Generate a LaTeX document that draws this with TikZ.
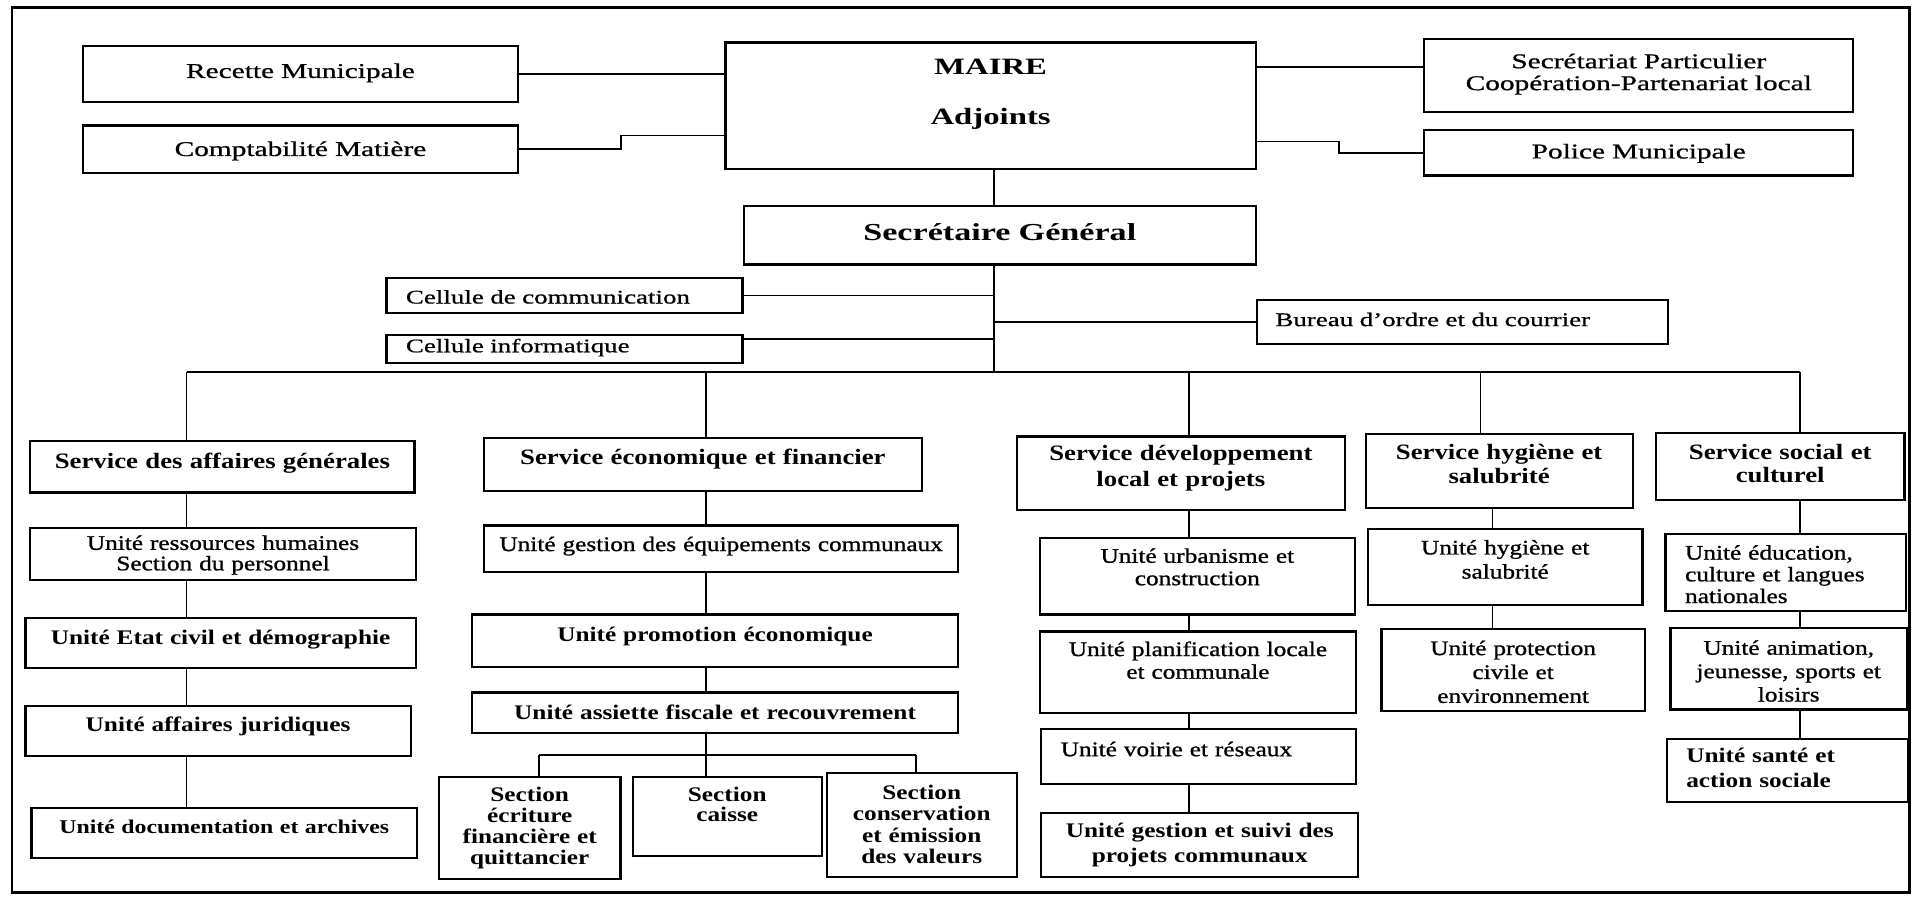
\documentclass[tikz,border=0pt]{standalone}
\usepackage{fontspec}
\setmainfont{Liberation Serif}[FakeStretch=1.22,UprightFeatures={FakeBold=1}]
\newfontfamily\topfont{Liberation Serif}[FakeStretch=1.4,UprightFeatures={FakeBold=0.8}]
\tikzset{
	cell/.code n args={5}{%
		\pgfmathsetmacro\cellw{(#3-#1)/2-4}%
		\pgfmathsetmacro\cellh{(#5-#2)/2}%
		\pgfmathsetmacro\celld{(#4-#5)/2}%
		\pgfkeysalso{at={(#1,#2)},anchor=north west,text width=\cellw pt,text height=\cellh pt,text depth=\celld pt}%
	}
}

\begin{document}
\begin{tikzpicture}[x=0.5pt,y=-0.5pt,
		box/.style={draw,line width=0.9pt,inner xsep=2pt,inner ysep=0pt,align=center},
		link/.style={line width=0.7pt},
		inset/.style={align=left,execute at begin node={\leftskip=#1\relax}},
		txt/.style 2 args={font=\fontsize{#1}{#2}\selectfont},
		btxt/.style 2 args={font=\fontsize{#1}{#2}\selectfont\bfseries},
		toptxt/.style 2 args={font=\topfont\fontsize{#1}{#2}\selectfont},
		topbold/.style 2 args={font=\topfont\fontsize{#1}{#2}\selectfont\bfseries}]
		\useasboundingbox (0,0) rectangle (1568,736);
		\draw [line width=1pt] (10,6) rectangle (1566,732);

		\node [box,toptxt={8.6}{10},cell={67}{37}{424}{83}{63}] (recette) {Recette Municipale};
		\node [box,toptxt={8.6}{10},cell={67}{102}{424}{141}{127}] (compta) {Comptabilité Matière};
		\node [box,topbold={9.6}{20.5},cell={594}{34}{1029}{138}{60}] (maire) {MAIRE\\Adjoints};
		\node [box,topbold={10}{12},cell={609}{168}{1029}{216}{196}] (sg) {Secrétaire Général};
		\node [box,toptxt={8.6}{9},cell={1167}{31}{1519}{91}{55}] (secr) {Secrétariat Particulier\\Coopération-Partenariat local};
		\node [box,toptxt={8.6}{10},cell={1167}{106}{1519}{143}{129}] (police) {Police Municipale};
		\node [box,toptxt={7.9}{9},inset=6pt,cell={316}{227}{608}{256}{248}] (comm) {Cellule de communication};
		\node [box,toptxt={7.9}{9},inset=6pt,cell={316}{274}{608}{297}{288}] (info) {Cellule informatique};
		\node [box,toptxt={7.9}{9},inset=5.5pt,cell={1030}{245}{1367}{281}{266.5}] (bureau) {Bureau d’ordre et du courrier};

		\node [box,btxt={9}{10},cell={24}{361}{339}{403}{383}] (sag) {Service des affaires générales};
		\node [box,txt={8.5}{8.4},cell={24}{432}{340}{475}{450}] (rh) {Unité ressources humaines\\Section du personnel};
		\node [box,btxt={8.5}{10},cell={20}{506}{340}{547}{527.6}] (etat) {Unité Etat civil et démographie};
		\node [box,btxt={8.5}{10},cell={20}{578}{336}{619}{598.7}] (jur) {Unité affaires juridiques};
		\node [box,btxt={8}{10},cell={25}{662}{341}{703}{683}] (doc) {Unité documentation et archives};

		\node [box,btxt={9}{10},cell={396}{358}{755}{402}{380}] (sef) {Service économique et financier};
		\node [box,txt={8.5}{10},cell={396}{430}{785}{468}{451}] (equip) {Unité gestion des équipements communaux};
		\node [box,btxt={8.5}{10},cell={386}{503}{785}{546}{524.8}] (promo) {Unité promotion économique};
		\node [box,btxt={8.5}{10},cell={386}{567}{785}{600}{589}] (assiette) {Unité assiette fiscale et recouvrement};
		\node [box,btxt={8.5}{8.6},cell={359}{636}{508}{720}{656.6}] (ecrit) {Section\\écriture\\financière et\\quittancier};
		\node [box,btxt={8.5}{8.5},cell={518}{636}{673}{701}{656}] (caisse) {Section\\caisse};
		\node [box,btxt={8.5}{8.8},cell={677}{633}{833}{718}{654.7}] (conserv) {Section\\conservation\\et émission\\des valeurs};

		\node [box,btxt={9}{10.7},cell={833}{357}{1102}{417}{377}] (sdl) {Service développement\\local et projets};
		\node [box,txt={8.5}{9.2},cell={852}{440}{1110}{503}{460.6}] (urb) {Unité urbanisme et\\construction};
		\node [box,txt={8.5}{9.3},cell={852}{517}{1111}{584}{537.1}] (plan) {Unité planification locale\\et communale};
		\node [box,txt={8.5}{10},inset=6pt,cell={853}{597}{1111}{642}{619.2}] (voirie) {Unité voirie et réseaux};
		\node [box,btxt={8.5}{10.3},cell={853}{666}{1113}{718}{686.1}] (gsuivi) {Unité gestion et suivi des\\projets communaux};

		\node [box,btxt={9}{10},cell={1119}{355}{1338}{416}{376}] (shs) {Service hygiène et\\salubrité};
		\node [box,txt={8.5}{9.9},cell={1121}{433}{1346}{495}{453.8}] (hyg) {Unité hygiène et\\salubrité};
		\node [box,txt={8.5}{9.8},cell={1132}{515}{1348}{582}{536.3}] (prot) {Unité protection\\civile et\\environnement};

		\node [box,btxt={9}{9.5},cell={1357}{354}{1561}{409}{376}] (ssc) {Service social et\\culturel};
		\node [box,txt={8.5}{8.9},inset=6pt,cell={1365}{437}{1562}{500}{458}] (edu) {Unité éducation,\\culture et langues\\nationales};
		\node [box,txt={8.5}{9.6},cell={1369}{514}{1563}{581}{536}] (anim) {Unité animation,\\jeunesse, sports et\\loisirs};
		\node [box,btxt={8.5}{10},inset=6pt,cell={1366}{605}{1564}{657}{624.6}] (sante) {Unité santé et\\action sociale};

		\coordinate (trunk) at (815,305);
		\coordinate (b1) at (153,305);
		\coordinate (b2) at (579,305);
		\coordinate (b3) at (975,305);
		\coordinate (b4) at (1214,305);
		\coordinate (b5) at (1476,305);
		\coordinate (c4) at (1224,305);
		\coordinate (cstep) at (509,111);
		\coordinate (pstep) at (1098,116);
		\coordinate (sline) at (1100,55);
		\coordinate (iline) at (700,278);
		\coordinate (s1) at (442,619);
		\coordinate (s2) at (579,619);
		\coordinate (s3) at (751,619);

		\draw [link] (recette.east) -- (recette.east -| maire.west);
		\draw [link] (compta.east) -| (cstep) -- (cstep -| maire.west);
		\draw [link] (maire.east |- sline) -- (secr.west |- sline);
		\draw [link] (maire.east |- pstep) -- (pstep) |- (police.west);
		\draw [link] (maire.south -| trunk) -- (sg.north -| trunk);
		\draw [link] (sg.south -| trunk) -- (trunk);
		\draw [link] (comm.east) -- (comm.east -| trunk);
		\draw [link] (info.east |- iline) -- (iline -| trunk);
		\draw [link] (bureau.west) -- (bureau.west -| trunk);
		\draw [link] (b1) -- (b5);
		\draw [link] (b1) -- (b1 |- sag.north);
		\draw [link] (b2) -- (b2 |- sef.north);
		\draw [link] (b3) -- (b3 |- sdl.north);
		\draw [link] (b4) -- (b4 |- shs.north);
		\draw [link] (b5) -- (b5 |- ssc.north);
		\foreach \a/\b in {sag/rh,rh/etat,etat/jur,jur/doc}
			\draw [link] (\a.south -| b1) -- (\b.north -| b1);
		\foreach \a/\b in {sef/equip,equip/promo,promo/assiette}
			\draw [link] (\a.south -| b2) -- (\b.north -| b2);
		\draw [link] (assiette.south -| s2) -- (s2);
		\draw [link] (s1) -- (s3);
		\draw [link] (s1) -- (s1 |- ecrit.north);
		\draw [link] (s2) -- (s2 |- caisse.north);
		\draw [link] (s3) -- (s3 |- conserv.north);
		\foreach \a/\b in {sdl/urb,urb/plan,plan/voirie,voirie/gsuivi}
			\draw [link] (\a.south -| b3) -- (\b.north -| b3);
		\foreach \a/\b in {shs/hyg,hyg/prot}
			\draw [link] (\a.south -| c4) -- (\b.north -| c4);
		\foreach \a/\b in {ssc/edu,edu/anim,anim/sante}
			\draw [link] (\a.south -| b5) -- (\b.north -| b5);
	\end{tikzpicture}
\end{document}
